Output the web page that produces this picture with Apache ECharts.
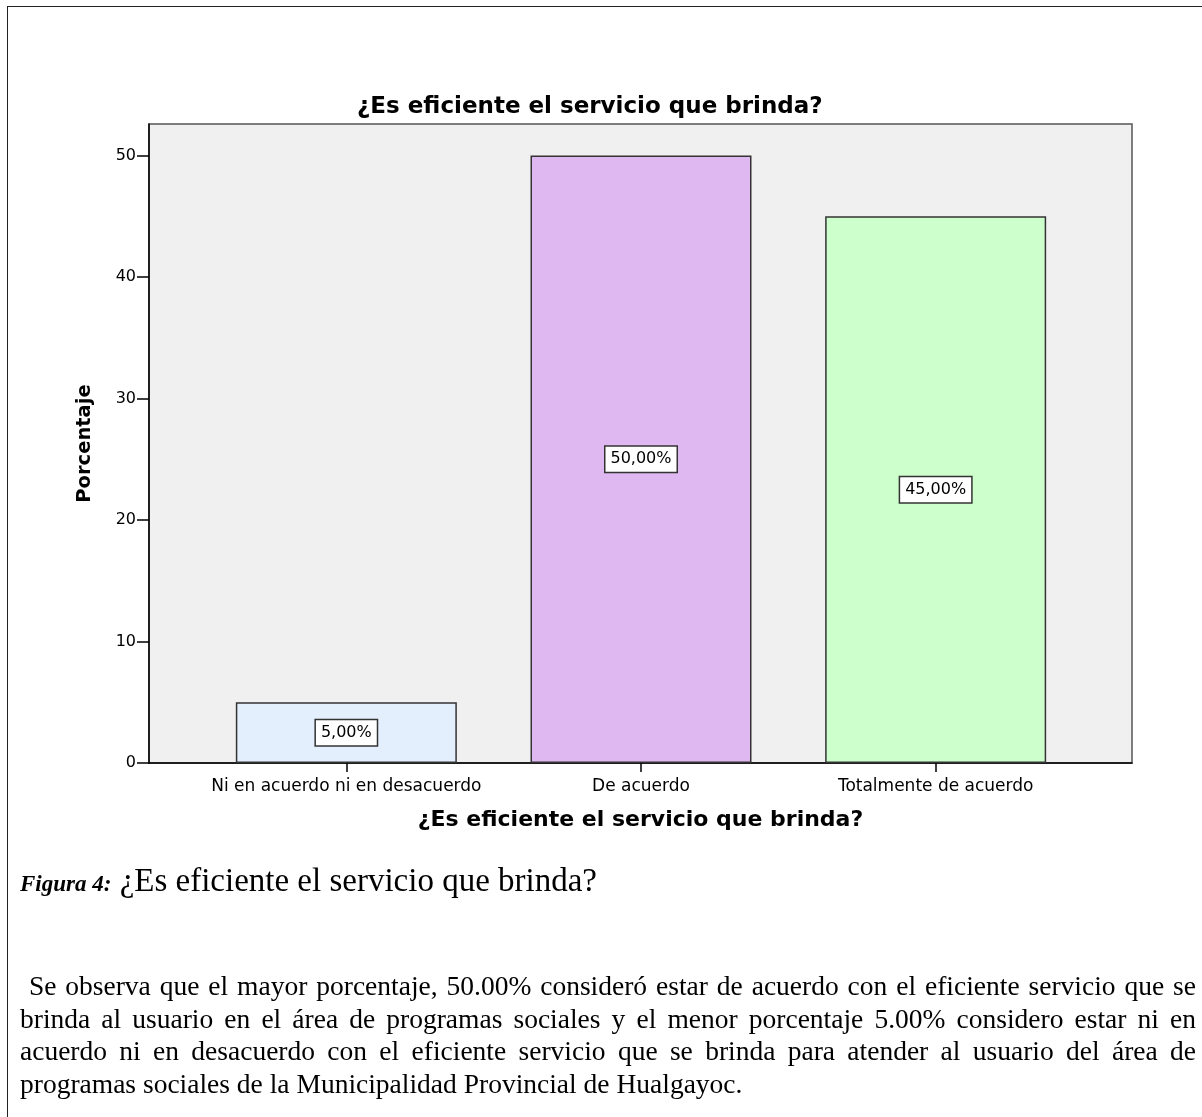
<!DOCTYPE html>
<html>
<head>
<meta charset="utf-8">
<script src="https://cdn.jsdelivr.net/npm/echarts@6/dist/echarts.min.js"></script>
<style>
  html, body { margin: 0; padding: 0; background: #fff; }
  #wrap { position: relative; width: 1202px; height: 1117px; overflow: hidden; }
  #frame { position: absolute; left: 7px; top: 6px; width: 1300px; height: 1300px;
           border-left: 1.5px solid #222; border-top: 1.5px solid #222; box-sizing: border-box; }
  #chart { position: absolute; left: 0; top: 0; width: 1202px; height: 1117px; }
  .cap { position: absolute; font-family: "Liberation Serif", "Times New Roman", serif; color: #000; }
  #fig { left: 20px; top: 860px; font-size: 33px; line-height: 40px; white-space: nowrap; }
  #fig b { font-size: 23px; }
  #para { left: 20px; top: 970px; width: 1176px; font-size: 27.5px; line-height: 32.5px; text-align: justify; }
</style>
</head>
<body>
<div id="wrap">
  <div id="chart"></div>
  <div id="frame"></div>
  <div id="fig" class="cap"><b><i>Figura 4:</i></b> ¿Es eficiente el servicio que brinda?</div>
  <div id="para" class="cap">&nbsp;Se observa que el mayor porcentaje, 50.00% consideró estar de acuerdo con el eficiente servicio que se brinda al usuario en el área de programas sociales y el menor porcentaje 5.00% considero estar ni en acuerdo ni en desacuerdo con el eficiente servicio que se brinda para atender al usuario del área de programas sociales de la Municipalidad Provincial de Hualgayoc.</div>
</div>
<script>
const categories = ['Ni en acuerdo ni en desacuerdo', 'De acuerdo', 'Totalmente de acuerdo'];
const percentages = [5, 50, 45];
const barColors = ['#e3effc', '#dfb8f1', '#ccffcc'];
const yTicks = { min: 0, max: 52.6, interval: 10 };
const chartTitle = '¿Es eficiente el servicio que brinda?';

const chart = echarts.init(document.getElementById('chart'));
const font = '"DejaVu Sans", Verdana, sans-serif';
const plotTop = 124, plotBottom = 1117 - 763;

chart.setOption({
  animation: false,
  title: {
    text: chartTitle, left: 352, top: 91,
    textStyle: { fontFamily: font, fontSize: 23, fontWeight: 'bold', color: '#000' }
  },
  grid: [
    { left: 149, right: 1202 - 1132, top: plotTop, bottom: plotBottom, show: true,
      backgroundColor: '#f0f0f0', borderColor: '#555', borderWidth: 1.5, z: 0 },
    { left: 199, right: 1202 - 1083, top: plotTop, bottom: plotBottom }
  ],
  xAxis: [
    { gridIndex: 0, type: 'value', min: 0, max: 1,
      axisLine: { show: true, onZero: false, lineStyle: { color: '#000', width: 1.5 } },
      axisTick: { show: false }, axisLabel: { show: false }, splitLine: { show: false },
      name: chartTitle, nameLocation: 'middle', nameGap: 46,
      nameTextStyle: { fontFamily: font, fontSize: 22, fontWeight: 'bold', color: '#000' } },
    { gridIndex: 1, type: 'category', data: categories,
      axisLine: { show: false },
      axisTick: { show: true, alignWithLabel: true, length: 9, lineStyle: { color: '#000', width: 1.5 } },
      axisLabel: { fontFamily: font, fontSize: 17, color: '#000', margin: 15, interval: 0 } }
  ],
  yAxis: [
    { gridIndex: 0, type: 'value', min: yTicks.min, max: yTicks.max, interval: yTicks.interval,
      axisLine: { show: true, lineStyle: { color: '#000', width: 1.5 } },
      axisTick: { show: true, length: 12, lineStyle: { color: '#000', width: 1.5 } },
      axisLabel: { fontFamily: font, fontSize: 16, color: '#000', margin: 13,
                   showMaxLabel: false },
      splitLine: { show: false },
      name: 'Porcentaje', nameLocation: 'middle', nameGap: 54, nameRotate: 90,
      nameTextStyle: { fontFamily: font, fontSize: 19.5, fontWeight: 'bold', color: '#000' } },
    { gridIndex: 1, type: 'value', min: yTicks.min, max: yTicks.max, interval: yTicks.interval,
      show: false, splitLine: { show: false } }
  ],
  series: [{
    type: 'bar', xAxisIndex: 1, yAxisIndex: 1, barWidth: 221,
    data: percentages.map((v, i) => ({ value: v, itemStyle: { color: barColors[i] } })),
    itemStyle: { borderColor: '#333', borderWidth: 1.5 },
    label: {
      show: true, position: 'inside',
      formatter: p => p.value.toFixed(2).replace('.', ',') + '%',
      fontFamily: font, fontSize: 16, color: '#000',
      backgroundColor: '#fff', borderColor: '#333', borderWidth: 1.5,
      padding: [5, 5, 4, 5]
    }
  }]
});
</script>
</body>
</html>
